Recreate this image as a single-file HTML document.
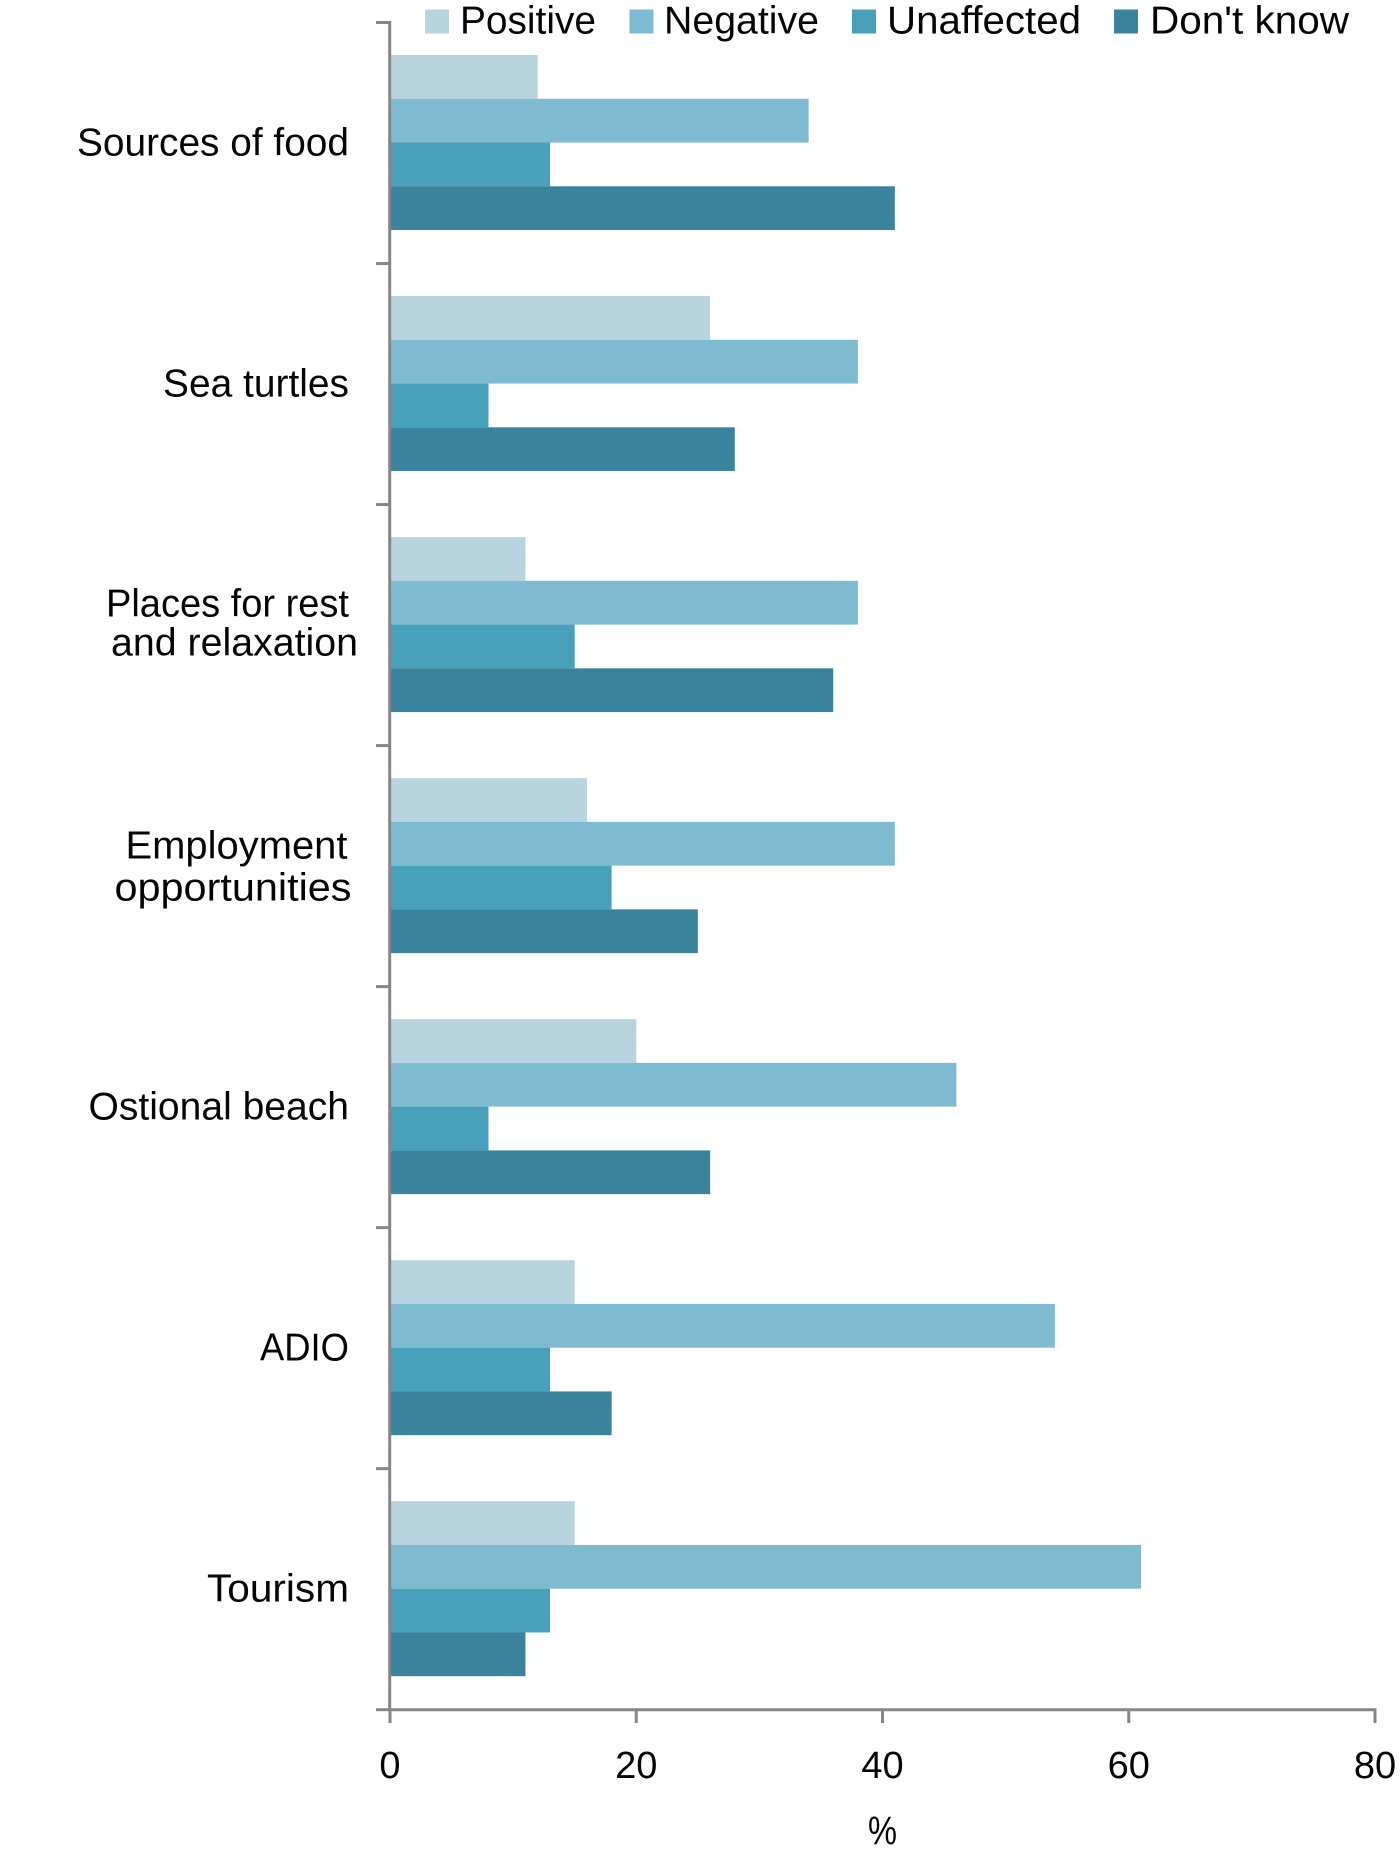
<!DOCTYPE html>
<html lang="en">
<head>
<meta charset="utf-8">
<title>Perceived effects bar chart</title>
<style>
html,body{margin:0;padding:0;background:#fff;}
svg{display:block;}
text{font-family:"Liberation Sans",sans-serif;fill:#050505;}
.cat,.leg{font-size:38.5px;}
.tick{font-size:38px;text-anchor:middle;}
</style>
</head>
<body>
<svg id="chart" xmlns="http://www.w3.org/2000/svg" width="1400" height="1849" viewBox="0 0 1400 1849">
  <rect x="0" y="0" width="1400" height="1849" fill="#ffffff"/>
  <g id="bars"></g>
  <g id="axes"></g>

  <g>
    <text class="cat" x="77" y="155.5" textLength="272" lengthAdjust="spacingAndGlyphs">Sources of food</text>
    <text class="cat" x="163" y="396.5" textLength="186" lengthAdjust="spacingAndGlyphs">Sea turtles</text>
    <text class="cat" x="106" y="616.5" textLength="243" lengthAdjust="spacingAndGlyphs">Places for rest</text>
    <text class="cat" x="111" y="655.5" textLength="247" lengthAdjust="spacingAndGlyphs">and relaxation</text>
    <text class="cat" x="125.5" y="858.5" textLength="222" lengthAdjust="spacingAndGlyphs">Employment</text>
    <text class="cat" x="114.5" y="900.5" textLength="237" lengthAdjust="spacingAndGlyphs">opportunities</text>
    <text class="cat" x="88.5" y="1119.5" textLength="260.5" lengthAdjust="spacingAndGlyphs">Ostional beach</text>
    <text class="cat" x="260" y="1360.7" textLength="89" lengthAdjust="spacingAndGlyphs">ADIO</text>
    <text class="cat" x="207" y="1601.7" textLength="142" lengthAdjust="spacingAndGlyphs">Tourism</text>
  </g>

  <g>
    <g>
      <rect x="425" y="9.5" width="24" height="24" fill="#b7d4df"/>
      <text class="leg" x="460" y="33.5" textLength="136" lengthAdjust="spacingAndGlyphs">Positive</text>
    </g>
    <g>
      <rect x="629.5" y="9.5" width="24" height="24" fill="#7fbbd0"/>
      <text class="leg" x="664" y="33.5" textLength="155" lengthAdjust="spacingAndGlyphs">Negative</text>
    </g>
    <g>
      <rect x="852" y="9.5" width="24" height="24" fill="#48a0ba"/>
      <text class="leg" x="887" y="33.5" textLength="194" lengthAdjust="spacingAndGlyphs">Unaffected</text>
    </g>
    <g>
      <rect x="1114" y="9.5" width="24" height="24" fill="#39839c"/>
      <text class="leg" x="1150" y="33.5" textLength="199" lengthAdjust="spacingAndGlyphs">Don't know</text>
    </g>
  </g>

  <text x="868" y="1844.5" font-size="40" textLength="29" lengthAdjust="spacingAndGlyphs">%</text>
</svg>
<script>
var categories = ["Sources of food", "Sea turtles", "Places for rest and relaxation", "Employment opportunities", "Ostional beach", "ADIO", "Tourism"];
var positiveValues = [12, 26, 11, 16, 20, 15, 15];
var negativeValues = [34, 38, 38, 41, 46, 54, 61];
var unaffectedValues = [13, 8, 15, 18, 8, 13, 13];
var dontKnowValues = [41, 28, 36, 25, 26, 18, 11];
var xTickLabels = [0, 20, 40, 60, 80];

var NS = "http://www.w3.org/2000/svg";
var barsLayer = document.getElementById("bars");
var axesLayer = document.getElementById("axes");
var seriesList = [
  { key: "positive", values: positiveValues, color: "#b7d4df" },
  { key: "negative", values: negativeValues, color: "#7fbbd0" },
  { key: "unaffected", values: unaffectedValues, color: "#48a0ba" },
  { key: "dont-know", values: dontKnowValues, color: "#39839c" }
];
var plotLeft = 390, plotRight = 1375, plotTop = 22.5, plotBottom = 1709.7;
var xMax = xTickLabels[xTickLabels.length - 1];

function xScale(v) {
  return plotLeft + (plotRight - plotLeft) * v / xMax;
}
function bandStep() {
  return (plotBottom - plotTop) / categories.length;
}
function bandTop(i) {
  return plotTop + bandStep() * i;
}
function slug(s) {
  return s.toLowerCase().replace(/[^a-z0-9]+/g, "-");
}
function axisLine(x1, y1, x2, y2) {
  var l = document.createElementNS(NS, "line");
  l.setAttribute("x1", x1);
  l.setAttribute("y1", y1);
  l.setAttribute("x2", x2);
  l.setAttribute("y2", y2);
  l.setAttribute("stroke", "#868686");
  l.setAttribute("stroke-width", "3");
  return l;
}

var groupPad = bandStep() * 0.135;
var barHeight = bandStep() * 0.1815;

categories.forEach(function (cat, c) {
  seriesList.forEach(function (s, k) {
    var r = document.createElementNS(NS, "rect");
    
    
    r.setAttribute("x", xScale(0));
    r.setAttribute("y", bandTop(c) + groupPad + barHeight * k);
    r.setAttribute("width", xScale(s.values[c]) - xScale(0));
    r.setAttribute("height", barHeight);
    r.setAttribute("fill", s.color);
    barsLayer.appendChild(r);
  });
});

var yAxis = axisLine(plotLeft - 0.3, plotTop - 1.5, plotLeft - 0.3, plotBottom + 1.5);


axesLayer.appendChild(yAxis);

var xAxis = axisLine(plotLeft - 0.3, plotBottom, plotRight + 1.5, plotBottom);


axesLayer.appendChild(xAxis);

for (var i = 0; i <= categories.length; i++) {
  var yTick = axisLine(376, bandTop(i), plotLeft, bandTop(i));
  
  
  axesLayer.appendChild(yTick);
}

xTickLabels.forEach(function (t) {
  var tick = axisLine(xScale(t), plotBottom, xScale(t), 1723);
  
  
  axesLayer.appendChild(tick);

  var label = document.createElementNS(NS, "text");
  
  
  label.setAttribute("class", "tick");
  label.setAttribute("x", xScale(t));
  label.setAttribute("y", 1778);
  label.textContent = String(t);
  axesLayer.appendChild(label);
});
</script>
</body>
</html>
